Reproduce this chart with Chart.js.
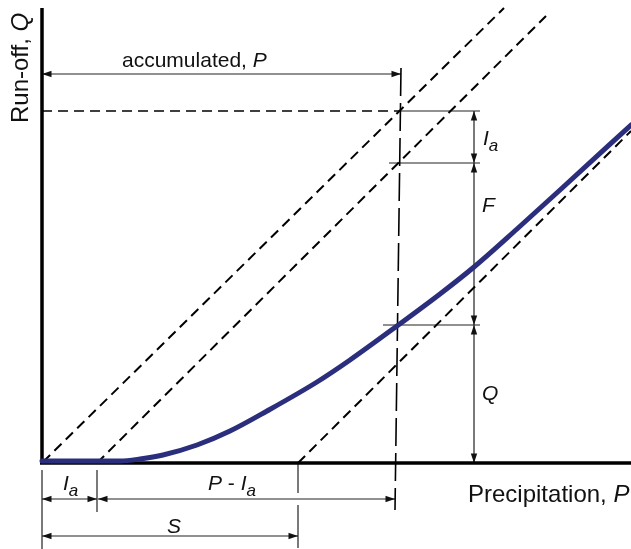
<!DOCTYPE html>
<html><head><meta charset="utf-8">
<script src="https://cdn.jsdelivr.net/npm/chart.js@4"></script>
<style>html,body{margin:0;padding:0;background:#fff}#wrap{width:631px;height:549px}</style>
</head><body><div id="wrap"><canvas id="c" width="631" height="549"></canvas></div>
<script>
// Run-off curve (diagram units, origin where the axes cross)
const curveP = [0, 55, 78, 98, 121, 155, 188, 225, 275, 308, 355, 398, 432, 475, 518, 589];
const curveQ = [2, 2, 2, 4, 8, 18, 32, 52, 81, 103, 137, 169, 196, 234, 273, 338];

// Reference 45-degree lines: start / end points
const diagStartP = [1, 55, 256];
const diagStartQ = [1, 0, 0];
const diagEndP = [462, 504, 589];
const diagEndQ = [455, 447, 332];

// Key quantities
const Ia = 55;          // initial abstraction
const S = 256;          // potential retention
const Ptop = 359;       // accumulated P (top of marker line)
const Pbottom = 353;    // accumulated P (bottom of marker line)
const levelP = 352;     // height of P
const levelF = 300;     // height of P - Ia
const levelQ = 138;     // run-off Q
const dimX = 432;       // position of vertical dimension line
const axisTop = 455;
const axisRight = 589;

const pts = (xs, ys) => xs.map((x, i) => ({x, y: ys[i]}));
const seg = (x1, y1, x2, y2) => [{x: x1, y: y1}, {x: x2, y: y2}];

// arrowhead image (tip at centre, pointing up)
const arrow = document.createElement('canvas');
arrow.width = 24; arrow.height = 24;
(function(){ const g = arrow.getContext('2d'); g.fillStyle = '#111'; g.beginPath();
  g.moveTo(12, 12); g.lineTo(8.8, 21.5); g.lineTo(15.2, 21.5); g.closePath(); g.fill(); })();

const solid = (data, w, col) => ({data, showLine: true, borderColor: col || '#000', borderWidth: w, pointRadius: 0, fill: false});
const dashed = (data, w, dash) => Object.assign(solid(data, w), {borderDash: dash});
const dim = (data, rot) => Object.assign(solid(data, 1.2, '#222'), {pointRadius: 3, pointStyle: arrow, pointRotation: rot});

const datasets = [
  Object.assign(solid(pts(curveP, curveQ), 5, '#2B2E7C'), {cubicInterpolationMode: 'monotone', borderCapStyle: 'round'}),
  solid(seg(0, axisTop, 0, 0), 3.5),
  solid(seg(-2, 0, axisRight, 0), 3.5),
  dashed(seg(diagStartP[0], diagStartQ[0], diagEndP[0], diagEndQ[0]), 2, [10, 6]),
  dashed(seg(diagStartP[1], diagStartQ[1], diagEndP[1], diagEndQ[1]), 2, [10, 6]),
  dashed(seg(diagStartP[2], diagStartQ[2], diagEndP[2], diagEndQ[2]), 2, [10, 6]),
  dashed(seg(0, levelP, Ptop, levelP), 1.5, [10, 6]),
  dashed(seg(Ptop, 395, Pbottom, -47), 1.6, [28, 7]),
  solid(seg(Ptop, levelP, dimX + 6, levelP), 1.2, '#222'),
  solid(seg(347, levelF, dimX + 6, levelF), 1.2, '#222'),
  solid(seg(341, levelQ, dimX + 6, levelQ), 1.2, '#222'),
  dim(seg(0, 389, Ptop, 389), [-90, 90]),
  dim(seg(dimX, levelP, dimX, levelF), [0, 180]),
  dim(seg(dimX, levelF, dimX, levelQ), [0, 180]),
  dim(seg(dimX, levelQ, dimX, 0), [0, 180]),
  dim(seg(0, -36, Ia, -36), [-90, 90]),
  dim(seg(Ia + 1, -36, Pbottom, -36), [-90, 90]),
  dim(seg(0, -73, S, -73), [-90, 90]),
  solid(seg(0, -7, 0, -86), 1.2, '#222'),
  solid(seg(Ia, -7, Ia, -49), 1.2, '#222'),
  solid(seg(S, 0, S, -30), 1.2, '#222'),
  solid(seg(S, -42, S, -85), 1.2, '#222')
];

const FONT = '"Liberation Sans", Arial, Helvetica, sans-serif';
// text labels: parts [text, italic, subscript]
const labels = [
  {x: 80, y: 396, size: 21, parts: [['accumulated, ', 0, 0], ['P', 1, 0]]},
  {x: 426, y: -39, size: 24, parts: [['Precipitation, ', 0, 0], ['P', 1, 0]]},
  {x: -14, y: 340, size: 24, rot: true, parts: [['Run-off, ', 0, 0], ['Q', 1, 0]]},
  {x: 441, y: 318, size: 21, parts: [['I', 1, 0], ['a', 1, 1]]},
  {x: 440, y: 251, size: 21, parts: [['F', 1, 0]]},
  {x: 440, y: 63, size: 21, parts: [['Q', 1, 0]]},
  {x: 21, y: -27, size: 21, parts: [['I', 1, 0], ['a', 1, 1]]},
  {x: 166, y: -27, size: 21, parts: [['P', 1, 0], [' - ', 0, 0], ['I', 1, 0], ['a', 1, 1]]},
  {x: 125, y: -70, size: 21, parts: [['S', 1, 0]]}
];

const textPlugin = {
  id: 'texts',
  afterDatasetsDraw(chart) {
    const ctx = chart.ctx, xs = chart.scales.x, ys = chart.scales.y;
    labels.forEach(l => {
      ctx.save();
      ctx.translate(xs.getPixelForValue(l.x), ys.getPixelForValue(l.y));
      if (l.rot) ctx.rotate(-Math.PI / 2);
      ctx.fillStyle = '#111';
      ctx.textBaseline = 'alphabetic';
      let cx = 0;
      l.parts.forEach(([t, it, sub]) => {
        const sz = sub ? Math.round(l.size * 0.8) : l.size;
        ctx.font = (it ? 'italic ' : '') + sz + 'px ' + FONT;
        ctx.fillText(t, cx, sub ? 6 : 0);
        cx += ctx.measureText(t).width;
      });
      ctx.restore();
    });
  }
};

new Chart(document.getElementById('c'), {
  type: 'scatter',
  data: {datasets},
  options: {
    responsive: false, animation: false, events: [],
    layout: {padding: 0, autoPadding: false},
    plugins: {legend: {display: false}, tooltip: {enabled: false}},
    scales: {
      x: {type: 'linear', min: -42, max: 589, display: false},
      y: {type: 'linear', min: -86, max: 463, display: false}
    }
  },
  plugins: [textPlugin]
});
</script></body></html>
